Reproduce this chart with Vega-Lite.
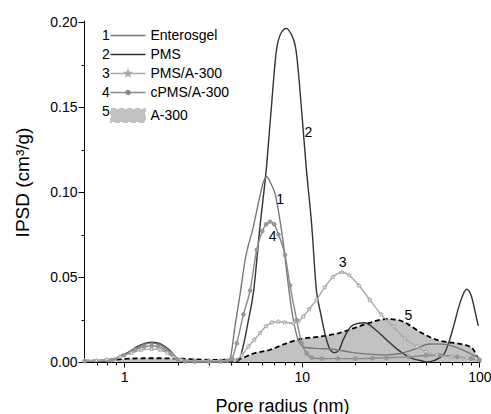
{
  "$schema": "https://vega.github.io/schema/vega-lite/v6.json",
  "width": 396,
  "height": 342,
  "autosize": "none",
  "padding": {"left": 84, "top": 20, "right": 11, "bottom": 52},
  "background": "white",
  "config": {
    "view": {"stroke": null},
    "font": "Liberation Sans",
    "axis": {"grid": false, "domainColor": "#000000", "tickColor": "#000000", "labelColor": "#000000", "titleColor": "#000000", "labelFont": "Liberation Sans", "titleFont": "Liberation Sans", "labelFontSize": 14, "titleFontWeight": "normal", "labelFlush": false, "labelOverlap": false, "domainWidth": 1, "tickWidth": 1}
  },
  "datasets": {
    "curves": [
      {"series": "PMS", "r": 0.6, "v": 0.0004}, {"series": "PMS", "r": 0.75, "v": 0.0005}, {"series": "PMS", "r": 0.83, "v": 0.001}, {"series": "PMS", "r": 0.95, "v": 0.0035}, {"series": "PMS", "r": 1.08, "v": 0.0063}, {"series": "PMS", "r": 1.2, "v": 0.0093}, {"series": "PMS", "r": 1.32, "v": 0.0111}, {"series": "PMS", "r": 1.43, "v": 0.0117}, {"series": "PMS", "r": 1.55, "v": 0.0112}, {"series": "PMS", "r": 1.7, "v": 0.009}, {"series": "PMS", "r": 1.85, "v": 0.0058}, {"series": "PMS", "r": 2.0, "v": 0.0018}, {"series": "PMS", "r": 2.1, "v": 0.0004}, {"series": "PMS", "r": 2.3, "v": 0}, {"series": "PMS", "r": 3.0, "v": 0}, {"series": "PMS", "r": 4.0, "v": 0}, {"series": "PMS", "r": 4.4, "v": 0.0005}, {"series": "PMS", "r": 4.7, "v": 0.01}, {"series": "PMS", "r": 5.0, "v": 0.024}, {"series": "PMS", "r": 5.34, "v": 0.0404}, {"series": "PMS", "r": 5.82, "v": 0.0796}, {"series": "PMS", "r": 6.35, "v": 0.116}, {"series": "PMS", "r": 6.69, "v": 0.145}, {"series": "PMS", "r": 7.23, "v": 0.1845}, {"series": "PMS", "r": 7.7, "v": 0.194}, {"series": "PMS", "r": 8.16, "v": 0.1963}, {"series": "PMS", "r": 8.6, "v": 0.194}, {"series": "PMS", "r": 9.25, "v": 0.1845}, {"series": "PMS", "r": 10.04, "v": 0.145}, {"series": "PMS", "r": 10.57, "v": 0.116}, {"series": "PMS", "r": 11.4, "v": 0.0796}, {"series": "PMS", "r": 12.1, "v": 0.042}, {"series": "PMS", "r": 12.7, "v": 0.03}, {"series": "PMS", "r": 13.8, "v": 0.013}, {"series": "PMS", "r": 14.5, "v": 0.007}, {"series": "PMS", "r": 15.3, "v": 0.0055}, {"series": "PMS", "r": 16.2, "v": 0.007}, {"series": "PMS", "r": 17.1, "v": 0.013}, {"series": "PMS", "r": 19.5, "v": 0.0218}, {"series": "PMS", "r": 22.5, "v": 0.0231}, {"series": "PMS", "r": 26, "v": 0.019}, {"series": "PMS", "r": 30.1, "v": 0.013}, {"series": "PMS", "r": 34, "v": 0.008}, {"series": "PMS", "r": 37.3, "v": 0.005}, {"series": "PMS", "r": 42, "v": 0.002}, {"series": "PMS", "r": 46, "v": 0.001}, {"series": "PMS", "r": 50.5, "v": 0}, {"series": "PMS", "r": 56, "v": 0.001}, {"series": "PMS", "r": 63, "v": 0.0045}, {"series": "PMS", "r": 68, "v": 0.013}, {"series": "PMS", "r": 72, "v": 0.022}, {"series": "PMS", "r": 77.6, "v": 0.0345}, {"series": "PMS", "r": 84.8, "v": 0.0428}, {"series": "PMS", "r": 90, "v": 0.039}, {"series": "PMS", "r": 94, "v": 0.031}, {"series": "PMS", "r": 98.6, "v": 0.0212},

      {"series": "Enterosgel", "r": 0.6, "v": 0.0004}, {"series": "Enterosgel", "r": 0.8, "v": 0.001}, {"series": "Enterosgel", "r": 0.95, "v": 0.003}, {"series": "Enterosgel", "r": 1.08, "v": 0.0058}, {"series": "Enterosgel", "r": 1.2, "v": 0.0088}, {"series": "Enterosgel", "r": 1.32, "v": 0.0106}, {"series": "Enterosgel", "r": 1.43, "v": 0.0111}, {"series": "Enterosgel", "r": 1.55, "v": 0.0106}, {"series": "Enterosgel", "r": 1.7, "v": 0.0085}, {"series": "Enterosgel", "r": 1.85, "v": 0.0054}, {"series": "Enterosgel", "r": 2.0, "v": 0.0018}, {"series": "Enterosgel", "r": 2.15, "v": 0.0004}, {"series": "Enterosgel", "r": 2.5, "v": 0}, {"series": "Enterosgel", "r": 3.5, "v": 0}, {"series": "Enterosgel", "r": 3.8, "v": 0.0005}, {"series": "Enterosgel", "r": 3.95, "v": 0.002}, {"series": "Enterosgel", "r": 4.21, "v": 0.021}, {"series": "Enterosgel", "r": 4.5, "v": 0.04}, {"series": "Enterosgel", "r": 4.8, "v": 0.06}, {"series": "Enterosgel", "r": 5.34, "v": 0.0796}, {"series": "Enterosgel", "r": 5.8, "v": 0.097}, {"series": "Enterosgel", "r": 6.05, "v": 0.105}, {"series": "Enterosgel", "r": 6.35, "v": 0.109}, {"series": "Enterosgel", "r": 6.7, "v": 0.105}, {"series": "Enterosgel", "r": 7.07, "v": 0.0992}, {"series": "Enterosgel", "r": 7.5, "v": 0.085}, {"series": "Enterosgel", "r": 7.88, "v": 0.0698}, {"series": "Enterosgel", "r": 8.3, "v": 0.05}, {"series": "Enterosgel", "r": 8.78, "v": 0.0306}, {"series": "Enterosgel", "r": 9.3, "v": 0.017}, {"series": "Enterosgel", "r": 9.78, "v": 0.011}, {"series": "Enterosgel", "r": 10.5, "v": 0.0085}, {"series": "Enterosgel", "r": 12, "v": 0.008}, {"series": "Enterosgel", "r": 15, "v": 0.0075}, {"series": "Enterosgel", "r": 19.5, "v": 0.0055}, {"series": "Enterosgel", "r": 25, "v": 0.0045}, {"series": "Enterosgel", "r": 30, "v": 0.0042}, {"series": "Enterosgel", "r": 36, "v": 0.005}, {"series": "Enterosgel", "r": 43, "v": 0.0075}, {"series": "Enterosgel", "r": 52.7, "v": 0.0106}, {"series": "Enterosgel", "r": 62, "v": 0.0105}, {"series": "Enterosgel", "r": 72, "v": 0.009}, {"series": "Enterosgel", "r": 85, "v": 0.006}, {"series": "Enterosgel", "r": 96, "v": 0.003}, {"series": "Enterosgel", "r": 100, "v": 0.002},

      {"series": "cPMS/A-300", "r": 0.6, "v": 0.0004}, {"series": "cPMS/A-300", "r": 0.85, "v": 0.001}, {"series": "cPMS/A-300", "r": 1.0, "v": 0.004}, {"series": "cPMS/A-300", "r": 1.15, "v": 0.0072}, {"series": "cPMS/A-300", "r": 1.3, "v": 0.009}, {"series": "cPMS/A-300", "r": 1.43, "v": 0.0096}, {"series": "cPMS/A-300", "r": 1.55, "v": 0.0091}, {"series": "cPMS/A-300", "r": 1.7, "v": 0.0073}, {"series": "cPMS/A-300", "r": 1.85, "v": 0.0046}, {"series": "cPMS/A-300", "r": 2.0, "v": 0.0015}, {"series": "cPMS/A-300", "r": 2.2, "v": 0.0003}, {"series": "cPMS/A-300", "r": 2.5, "v": 0.0002}, {"series": "cPMS/A-300", "r": 3.0, "v": 0.0002}, {"series": "cPMS/A-300", "r": 3.5, "v": 0.0003}, {"series": "cPMS/A-300", "r": 3.8, "v": 0.0008}, {"series": "cPMS/A-300", "r": 4.04, "v": 0.002}, {"series": "cPMS/A-300", "r": 4.31, "v": 0.011}, {"series": "cPMS/A-300", "r": 4.7, "v": 0.028}, {"series": "cPMS/A-300", "r": 5.12, "v": 0.042}, {"series": "cPMS/A-300", "r": 5.58, "v": 0.066}, {"series": "cPMS/A-300", "r": 6.0, "v": 0.077}, {"series": "cPMS/A-300", "r": 6.3, "v": 0.081}, {"series": "cPMS/A-300", "r": 6.63, "v": 0.0825}, {"series": "cPMS/A-300", "r": 7.0, "v": 0.081}, {"series": "cPMS/A-300", "r": 7.4, "v": 0.075}, {"series": "cPMS/A-300", "r": 8.05, "v": 0.063}, {"series": "cPMS/A-300", "r": 8.6, "v": 0.045}, {"series": "cPMS/A-300", "r": 9.37, "v": 0.0247}, {"series": "cPMS/A-300", "r": 10.0, "v": 0.011}, {"series": "cPMS/A-300", "r": 10.67, "v": 0.005}, {"series": "cPMS/A-300", "r": 11.4, "v": 0.0025}, {"series": "cPMS/A-300", "r": 13, "v": 0.002}, {"series": "cPMS/A-300", "r": 16, "v": 0.002}, {"series": "cPMS/A-300", "r": 20, "v": 0.002}, {"series": "cPMS/A-300", "r": 25, "v": 0.0022}, {"series": "cPMS/A-300", "r": 30, "v": 0.0025}, {"series": "cPMS/A-300", "r": 40, "v": 0.003}, {"series": "cPMS/A-300", "r": 50, "v": 0.0038}, {"series": "cPMS/A-300", "r": 60, "v": 0.004}, {"series": "cPMS/A-300", "r": 75, "v": 0.003}, {"series": "cPMS/A-300", "r": 90, "v": 0.002}, {"series": "cPMS/A-300", "r": 100, "v": 0.001},

      {"series": "PMS/A-300", "r": 0.6, "v": 0.0008}, {"series": "PMS/A-300", "r": 0.7, "v": 0.001}, {"series": "PMS/A-300", "r": 0.8, "v": 0.0015}, {"series": "PMS/A-300", "r": 0.95, "v": 0.003}, {"series": "PMS/A-300", "r": 1.1, "v": 0.0053}, {"series": "PMS/A-300", "r": 1.25, "v": 0.007}, {"series": "PMS/A-300", "r": 1.43, "v": 0.0076}, {"series": "PMS/A-300", "r": 1.6, "v": 0.007}, {"series": "PMS/A-300", "r": 1.75, "v": 0.0053}, {"series": "PMS/A-300", "r": 1.9, "v": 0.003}, {"series": "PMS/A-300", "r": 2.1, "v": 0.0012}, {"series": "PMS/A-300", "r": 2.5, "v": 0.0008}, {"series": "PMS/A-300", "r": 3.0, "v": 0.0008}, {"series": "PMS/A-300", "r": 3.5, "v": 0.0008}, {"series": "PMS/A-300", "r": 4.2, "v": 0.001}, {"series": "PMS/A-300", "r": 4.6, "v": 0.004}, {"series": "PMS/A-300", "r": 5.0, "v": 0.009}, {"series": "PMS/A-300", "r": 5.4, "v": 0.013}, {"series": "PMS/A-300", "r": 5.82, "v": 0.017}, {"series": "PMS/A-300", "r": 6.3, "v": 0.021}, {"series": "PMS/A-300", "r": 6.8, "v": 0.0232}, {"series": "PMS/A-300", "r": 7.39, "v": 0.0237}, {"series": "PMS/A-300", "r": 8.0, "v": 0.0233}, {"series": "PMS/A-300", "r": 8.97, "v": 0.0228}, {"series": "PMS/A-300", "r": 9.6, "v": 0.024}, {"series": "PMS/A-300", "r": 10.2, "v": 0.0267}, {"series": "PMS/A-300", "r": 11.0, "v": 0.031}, {"series": "PMS/A-300", "r": 12.1, "v": 0.0365}, {"series": "PMS/A-300", "r": 13.5, "v": 0.044}, {"series": "PMS/A-300", "r": 15, "v": 0.05}, {"series": "PMS/A-300", "r": 16.8, "v": 0.0528}, {"series": "PMS/A-300", "r": 18.5, "v": 0.051}, {"series": "PMS/A-300", "r": 21, "v": 0.045}, {"series": "PMS/A-300", "r": 24.2, "v": 0.0365}, {"series": "PMS/A-300", "r": 28, "v": 0.028}, {"series": "PMS/A-300", "r": 32.8, "v": 0.0208}, {"series": "PMS/A-300", "r": 38, "v": 0.014}, {"series": "PMS/A-300", "r": 44.4, "v": 0.009}, {"series": "PMS/A-300", "r": 50, "v": 0.006}, {"series": "PMS/A-300", "r": 57.5, "v": 0.004}, {"series": "PMS/A-300", "r": 70, "v": 0.003}, {"series": "PMS/A-300", "r": 85, "v": 0.0025}, {"series": "PMS/A-300", "r": 96, "v": 0.002}, {"series": "PMS/A-300", "r": 100, "v": 0.0015},

      {"series": "A-300", "r": 0.6, "v": 0.0008}, {"series": "A-300", "r": 0.8, "v": 0.001}, {"series": "A-300", "r": 1.0, "v": 0.0018}, {"series": "A-300", "r": 1.3, "v": 0.0022}, {"series": "A-300", "r": 1.6, "v": 0.0022}, {"series": "A-300", "r": 2.0, "v": 0.002}, {"series": "A-300", "r": 2.5, "v": 0.0015}, {"series": "A-300", "r": 3.0, "v": 0.0013}, {"series": "A-300", "r": 3.5, "v": 0.0013}, {"series": "A-300", "r": 4.0, "v": 0.0015}, {"series": "A-300", "r": 4.5, "v": 0.002}, {"series": "A-300", "r": 5.34, "v": 0.005}, {"series": "A-300", "r": 6.63, "v": 0.0072}, {"series": "A-300", "r": 8.2, "v": 0.011}, {"series": "A-300", "r": 10.2, "v": 0.0138}, {"series": "A-300", "r": 12.7, "v": 0.015}, {"series": "A-300", "r": 16.4, "v": 0.0172}, {"series": "A-300", "r": 19.5, "v": 0.0198}, {"series": "A-300", "r": 24, "v": 0.023}, {"series": "A-300", "r": 30, "v": 0.0253}, {"series": "A-300", "r": 35, "v": 0.0247}, {"series": "A-300", "r": 40, "v": 0.022}, {"series": "A-300", "r": 44.4, "v": 0.0188}, {"series": "A-300", "r": 50, "v": 0.0158}, {"series": "A-300", "r": 57.5, "v": 0.013}, {"series": "A-300", "r": 66, "v": 0.0118}, {"series": "A-300", "r": 74.6, "v": 0.011}, {"series": "A-300", "r": 82, "v": 0.0101}, {"series": "A-300", "r": 88.4, "v": 0.009}, {"series": "A-300", "r": 93, "v": 0.007}, {"series": "A-300", "r": 96, "v": 0.004}, {"series": "A-300", "r": 99, "v": 0.0015}, {"series": "A-300", "r": 100, "v": 0}
    ],
    "labels": [
      {"label": "1", "r": 7.55, "v": 0.0953},
      {"label": "2", "r": 10.9, "v": 0.1345},
      {"label": "3", "r": 17.0, "v": 0.0584},
      {"label": "4", "r": 6.87, "v": 0.0737},
      {"label": "5", "r": 39.8, "v": 0.0271}
    ]
  },
  "encoding": {
    "x": {
      "field": "r", "type": "quantitative",
      "scale": {"type": "log", "domain": [0.595, 100.8], "nice": false},
      "axis": {
        "title": "Pore radius  (nm)",
        "values": [0.7, 0.8, 0.9, 1, 2, 3, 4, 5, 6, 7, 8, 9, 10, 20, 30, 40, 50, 60, 70, 80, 90, 100],
        "labelExpr": "indexof([1,10,100], datum.value) >= 0 ? format(datum.value, 'd') : ''",
        "tickSize": {"condition": {"test": "indexof([1,10,100], datum.value) >= 0", "value": 5}, "value": 3},
        "labelPadding": 3,
        "titleFontSize": 18,
        "titleBaseline": "alphabetic",
        "titleY": 49
      }
    },
    "y": {
      "field": "v", "type": "quantitative",
      "scale": {"domain": [0, 0.2012], "nice": false, "zero": true},
      "axis": {
        "title": "IPSD  (cm³/g)",
        "values": [0, 0.025, 0.05, 0.075, 0.1, 0.125, 0.15, 0.175, 0.2],
        "labelExpr": "abs(datum.value * 20 - round(datum.value * 20)) < 0.000001 ? format(datum.value, '.2f') : ''",
        "tickSize": {"condition": {"test": "abs(datum.value * 20 - round(datum.value * 20)) < 0.000001", "value": 6}, "value": 3},
        "labelPadding": 1,
        "titleFontSize": 19,
        "titleBaseline": "alphabetic",
        "titleX": -56,
        "titleY": 162
      }
    }
  },
  "layer": [
    {
      "data": {"name": "curves"},
      "transform": [{"filter": "datum.series === 'A-300'"}],
      "mark": {"type": "area", "interpolate": "monotone", "opacity": 1},
      "encoding": {
        "color": {
          "field": "series", "type": "nominal",
          "scale": {"domain": ["Enterosgel", "PMS", "PMS/A-300", "cPMS/A-300", "A-300"], "range": ["#787878", "#333333", "#a9a9a9", "#8a8a8a", "#c2c2c2"]},
          "legend": {
            "orient": "none", "legendX": 37, "legendY": 8.5, "title": null,
            "symbolSize": 100, "symbolStrokeWidth": 1.5,
            "labelFontSize": 14, "labelFont": "Liberation Sans", "labelColor": "#000000", "labelOffset": 15.5, "rowPadding": 5,
            "encode": {
              "symbols": {
                "update": {
                  "shape": {"signal": "datum.value === 'A-300' ? 'M-3.4,-1.3H3.4V1.3H-3.4Z' : datum.value === 'PMS/A-300' ? 'M-3.5,0H3.5M0,-0.6L0.13,-0.18L0.57,-0.18L0.22,0.07L0.35,0.49L0,0.23L-0.35,0.49L-0.22,0.07L-0.57,-0.18L-0.13,-0.18Z' : datum.value === 'cPMS/A-300' ? 'M-3.5,0H3.5M-0.4,0A0.4,0.4,0,1,0,0.4,0A0.4,0.4,0,1,0,-0.4,0Z' : 'M-3.5,0H3.5'"},
                  "fill": {"signal": "datum.value === 'A-300' ? '#c2c2c2' : datum.value === 'PMS/A-300' ? '#ffffff' : datum.value === 'cPMS/A-300' ? '#8a8a8a' : 'transparent'"},
                  "stroke": {"signal": "datum.value === 'A-300' ? '#000000' : datum.value === 'PMS' ? '#333333' : datum.value === 'Enterosgel' ? '#787878' : datum.value === 'PMS/A-300' ? '#a9a9a9' : '#8a8a8a'"},
                  "strokeDash": {"signal": "datum.value === 'A-300' ? [5, 3] : [1, 0]"},
                  "strokeWidth": {"signal": "datum.value === 'A-300' ? 1.8 : 1.5"},
                  "opacity": {"value": 1}
                }
              }
            }
          }
        }
      }
    },
    {
      "data": {"name": "curves"},
      "transform": [{"filter": "datum.series === 'A-300'"}],
      "mark": {"type": "line", "interpolate": "monotone", "stroke": "#000000", "strokeWidth": 1.8, "strokeDash": [5, 3]}
    },
    {
      "data": {"name": "curves"},
      "transform": [{"filter": "datum.series !== 'A-300'"}],
      "mark": {"type": "line", "interpolate": "monotone", "strokeWidth": 1.4},
      "encoding": {
        "color": {
          "field": "series", "type": "nominal",
          "legend": {
            "orient": "none", "legendX": 37, "legendY": 8.5, "title": null,
            "symbolSize": 100, "symbolStrokeWidth": 1.5,
            "labelFontSize": 14, "labelFont": "Liberation Sans", "labelColor": "#000000", "labelOffset": 15.5, "rowPadding": 5,
            "encode": {
              "symbols": {
                "update": {
                  "shape": {"signal": "datum.value === 'A-300' ? 'M-3.4,-1.3H3.4V1.3H-3.4Z' : datum.value === 'PMS/A-300' ? 'M-3.5,0H3.5M0,-0.6L0.13,-0.18L0.57,-0.18L0.22,0.07L0.35,0.49L0,0.23L-0.35,0.49L-0.22,0.07L-0.57,-0.18L-0.13,-0.18Z' : datum.value === 'cPMS/A-300' ? 'M-3.5,0H3.5M-0.4,0A0.4,0.4,0,1,0,0.4,0A0.4,0.4,0,1,0,-0.4,0Z' : 'M-3.5,0H3.5'"},
                  "fill": {"signal": "datum.value === 'A-300' ? '#c2c2c2' : datum.value === 'PMS/A-300' ? '#ffffff' : datum.value === 'cPMS/A-300' ? '#8a8a8a' : 'transparent'"},
                  "stroke": {"signal": "datum.value === 'A-300' ? '#000000' : datum.value === 'PMS' ? '#333333' : datum.value === 'Enterosgel' ? '#787878' : datum.value === 'PMS/A-300' ? '#a9a9a9' : '#8a8a8a'"},
                  "strokeDash": {"signal": "datum.value === 'A-300' ? [5, 3] : [1, 0]"},
                  "strokeWidth": {"signal": "datum.value === 'A-300' ? 1.8 : 1.5"},
                  "opacity": {"value": 1}
                }
              }
            }
          }
        },
        "detail": {"field": "series"}
      }
    },
    {
      "data": {"name": "curves"},
      "transform": [{"filter": "datum.series === 'PMS/A-300'"}],
      "mark": {"type": "point", "shape": "M0,-1L0.22,-0.31L0.95,-0.31L0.36,0.12L0.59,0.81L0,0.38L-0.59,0.81L-0.36,0.12L-0.95,-0.31L-0.22,-0.31Z", "size": 22, "filled": true, "fill": "#ffffff", "stroke": "#a0a0a0", "strokeWidth": 0.8, "opacity": 1}
    },
    {
      "data": {"name": "curves"},
      "transform": [{"filter": "datum.series === 'cPMS/A-300'"}],
      "mark": {"type": "point", "shape": "circle", "size": 16, "filled": true, "fill": "#999999", "stroke": "#8a8a8a", "strokeWidth": 0.5, "opacity": 1}
    },
    {
      "data": {"name": "labels"},
      "mark": {"type": "text", "fontSize": 14, "font": "Liberation Sans", "color": "#000000", "align": "center", "baseline": "middle"},
      "encoding": {"text": {"field": "label"}}
    },
    {
      "data": {"name": "labels"},
      "mark": {"type": "point", "opacity": 0},
      "encoding": {
        "shape": {
          "field": "label", "type": "nominal",
          "legend": {"orient": "none", "legendX": 4, "legendY": 8.5, "title": null, "symbolOpacity": 0, "symbolSize": 0, "labelFontSize": 14, "labelFont": "Liberation Sans", "labelColor": "#000000", "labelOffset": 0, "rowPadding": 5}
        }
      }
    }
  ]
}
